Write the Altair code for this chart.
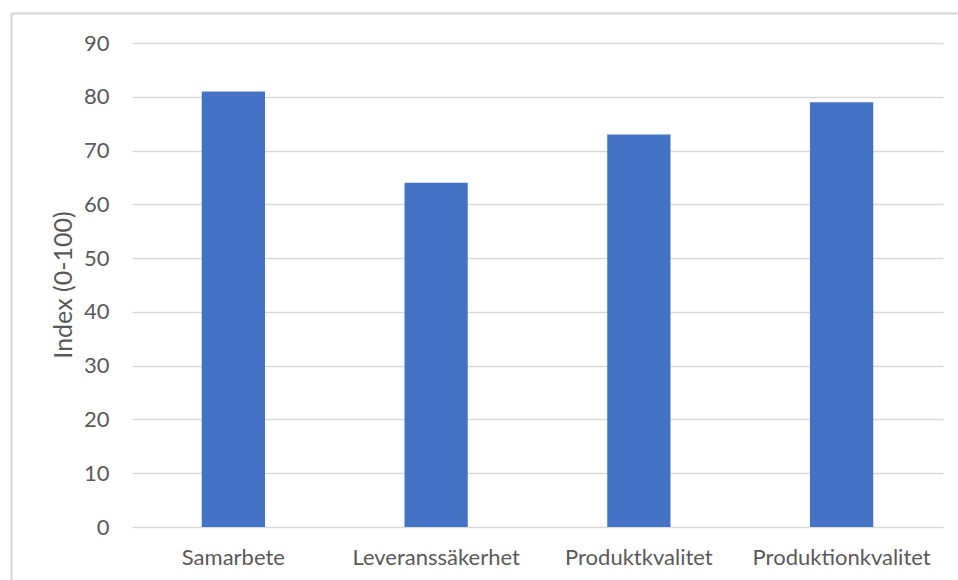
import altair as alt
import pandas as pd

categories = ["Samarbete", "Leveranssäkerhet", "Produktkvalitet", "Produktionkvalitet"]
values = [81, 64, 73, 79]

df = pd.DataFrame({"kategori": categories, "index": values})

W, H = 811, 484
FONT = "Lato"
TXT = "#595959"
GRID = "#D9D9D9"

bars = alt.Chart(df).mark_bar(color="#4472C4").encode(
    x=alt.X("kategori:N", sort=categories,
            scale=alt.Scale(paddingInner=0.688, paddingOuter=0.344),
            axis=alt.Axis(title=None, labelAngle=0, labelFont=FONT, labelFontSize=22,
                          labelColor=TXT, domain=False, ticks=False, labelPadding=20)),
    y=alt.Y("index:Q", scale=alt.Scale(domain=[0, 90], nice=False),
            axis=alt.Axis(title="Index (0-100)", values=list(range(0, 91, 10)),
                          labelFont=FONT, labelFontSize=22, labelColor=TXT,
                          domain=False, ticks=False, labelPadding=23,
                          gridColor=GRID, gridWidth=1.3,
                          titleFont=FONT, titleFontSize=25, titleFontWeight="normal",
                          titleColor=TXT, titleX=-69, titleY=H / 2 - 0.5,
                          titleAngle=-90, titleBaseline="middle", titleAlign="center")),
)

left_border = alt.Chart(df).mark_rule(color=GRID, strokeWidth=1.5).encode(
    x=alt.value(-120.5), y=alt.value(-29.5), y2=alt.value(H + 60)
)
top_border = alt.Chart(df).mark_rule(color=GRID, strokeWidth=1.5).encode(
    y=alt.value(-29.5), x=alt.value(-120.5), x2=alt.value(W + 20)
)

chart = alt.layer(bars, left_border, top_border).properties(
    width=W, height=H,
    background="white",
    autosize=alt.AutoSizeParams(type="none"),
    padding={"left": 132, "top": 43, "right": 15, "bottom": 53},
).configure_view(stroke=None)

chart.save("out.html", embed_options={"renderer": "svg", "actions": False})
